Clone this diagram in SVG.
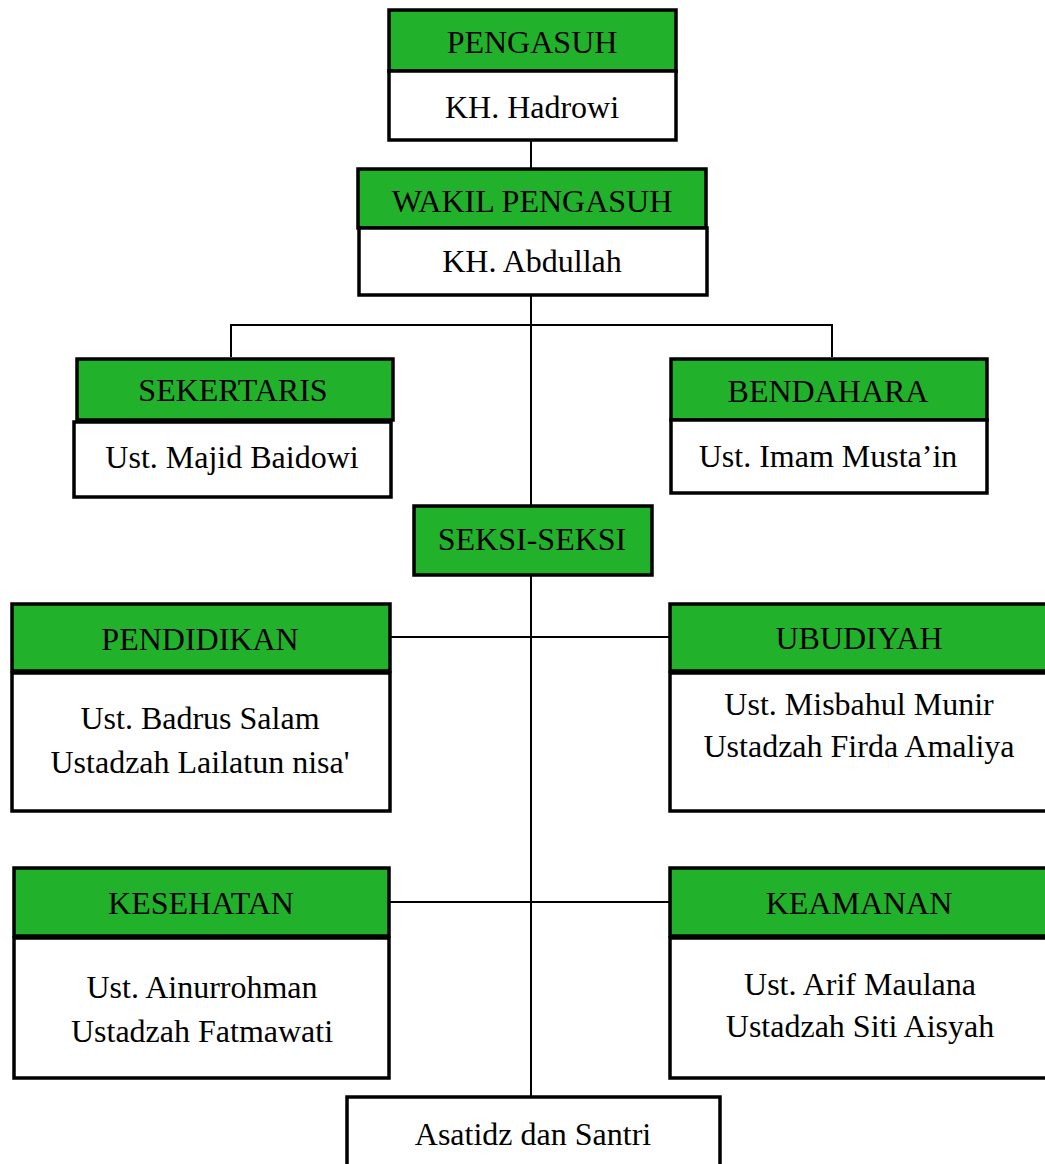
<svg xmlns="http://www.w3.org/2000/svg" width="1045" height="1164" viewBox="0 0 1045 1164">
<style>
.g{fill:#21b12a;stroke:#000;stroke-width:3.5}
.w{fill:#fff;stroke:#000;stroke-width:3.5}
.t{font-family:"Liberation Serif","Times New Roman",serif;font-size:32px;fill:#000;text-anchor:middle}
.c{stroke:#000;stroke-width:2;fill:none}
</style>
<rect width="1045" height="1164" fill="#fff"/>
<g id="connectors">
<line class="c" x1="531" y1="140" x2="531" y2="168"/>
<line class="c" x1="531" y1="295" x2="531" y2="1096"/>
<polyline class="c" points="231,357 231,325 832,325 832,357"/>
<line class="c" x1="390" y1="637" x2="669" y2="637"/>
<line class="c" x1="390" y1="902" x2="669" y2="902"/>
</g>
<g id="pengasuh">
<rect class="g" x="389" y="10" width="287" height="61"/>
<rect class="w" x="389" y="71" width="287" height="69"/>
<text class="t" x="532" y="53">PENGASUH</text>
<text class="t" x="532" y="118">KH. Hadrowi</text>
</g>
<g id="wakil">
<rect class="g" x="358" y="169" width="348" height="59"/>
<rect class="w" x="359" y="228" width="348" height="67"/>
<text class="t" x="532" y="212">WAKIL PENGASUH</text>
<text class="t" x="532" y="272">KH. Abdullah</text>
</g>
<g id="sekertaris">
<rect class="g" x="77" y="359" width="316" height="61"/>
<rect class="w" x="74" y="422" width="317" height="75"/>
<text class="t" x="233" y="401">SEKERTARIS</text>
<text class="t" x="232" y="468">Ust. Majid Baidowi</text>
</g>
<g id="bendahara">
<rect class="g" x="671" y="359" width="316" height="61"/>
<rect class="w" x="671" y="420" width="316" height="73"/>
<text class="t" x="828" y="402">BENDAHARA</text>
<text class="t" x="828" y="467">Ust. Imam Musta’in</text>
</g>
<g id="seksi">
<rect class="g" x="414" y="506" width="238" height="69"/>
<text class="t" x="532" y="550">SEKSI-SEKSI</text>
</g>
<g id="pendidikan">
<rect class="g" x="12" y="604" width="378" height="67"/>
<rect class="w" x="12" y="673" width="378" height="138"/>
<text class="t" x="200" y="650">PENDIDIKAN</text>
<text class="t" x="200" y="729">Ust. Badrus Salam</text>
<text class="t" x="200" y="773">Ustadzah Lailatun nisa'</text>
</g>
<g id="ubudiyah">
<rect class="g" x="670" y="604" width="382" height="67"/>
<rect class="w" x="670" y="673" width="382" height="138"/>
<text class="t" x="859" y="649">UBUDIYAH</text>
<text class="t" x="859" y="715">Ust. Misbahul Munir</text>
<text class="t" x="859" y="757">Ustadzah Firda Amaliya</text>
</g>
<g id="kesehatan">
<rect class="g" x="14" y="868" width="375" height="68"/>
<rect class="w" x="14" y="938" width="375" height="140"/>
<text class="t" x="201" y="914">KESEHATAN</text>
<text class="t" x="202" y="998">Ust. Ainurrohman</text>
<text class="t" x="202" y="1042">Ustadzah Fatmawati</text>
</g>
<g id="keamanan">
<rect class="g" x="670" y="868" width="382" height="68"/>
<rect class="w" x="670" y="938" width="382" height="140"/>
<text class="t" x="859" y="914">KEAMANAN</text>
<text class="t" x="860" y="995">Ust. Arif Maulana</text>
<text class="t" x="860" y="1037">Ustadzah Siti Aisyah</text>
</g>
<g id="asatidz">
<rect class="w" x="347" y="1097" width="373" height="80"/>
<text class="t" x="533" y="1145">Asatidz dan Santri</text>
</g>
</svg>
